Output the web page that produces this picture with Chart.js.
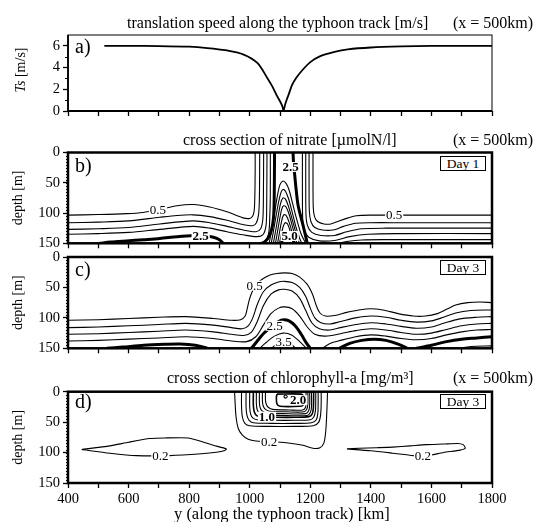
<!DOCTYPE html>
<html>
<head>
<meta charset="utf-8">
<script src="https://cdn.jsdelivr.net/npm/chart.js@4.4.0/dist/chart.umd.min.js"></script>
<style>
body{margin:0;background:#fff;width:547px;height:522px;position:relative;overflow:hidden;font-family:"Liberation Serif","DejaVu Serif",serif;color:#000}
canvas{position:absolute;left:0}
.t{position:absolute;font-size:16px;line-height:16px;white-space:nowrap}
.p{position:absolute;font-size:20px;line-height:20px}
.day{position:absolute;box-sizing:border-box;border:1px solid #000;font-size:13.5px;line-height:13px;width:46px;height:15px;text-align:center;background:#fff}
</style>
</head>
<body>
<canvas id="ca" width="547" height="125" style="top:0"></canvas>
<canvas id="cb" width="547" height="115" style="top:140px"></canvas>
<canvas id="cc" width="547" height="115" style="top:245px"></canvas>
<canvas id="cd" width="547" height="142" style="top:380px"></canvas>

<div class="t" style="left:127px;top:15px">translation speed along the typhoon track [m/s]</div>
<div class="t" style="left:453px;top:15px">(x = 500km)</div>
<div class="t" style="left:183px;top:132px">cross section of nitrate [µmolN/l]</div>
<div class="t" style="left:453px;top:132px">(x = 500km)</div>
<div class="t" style="left:167px;top:370px">cross section of chlorophyll-a [mg/m³]</div>
<div class="t" style="left:453px;top:370px">(x = 500km)</div>
<div class="t" style="left:174px;top:505px;font-size:16.5px;line-height:17px">y (along the typhoon track) [km]</div>

<div class="p" style="left:75px;top:36px">a)</div>
<div class="p" style="left:75px;top:155px">b)</div>
<div class="p" style="left:75px;top:259px">c)</div>
<div class="p" style="left:75px;top:391px">d)</div>
<div class="day" style="left:440px;top:156px">Day 1</div>
<div class="day" style="left:440px;top:260px">Day 3</div>
<div class="day" style="left:440px;top:394px">Day 3</div>

<script>
// a) translation speed
var a_km = [520,600,700,800,860,920,980,1026,1059,1075,1090,1100,1107,1112,1117,1123,1129,1140,1155,1175,1200,1233,1280,1324,1400,1500,1600,1700,1800];
var a_ts = [6.0,6.0,5.98,5.92,5.8,5.6,5.2,4.4,3.0,2.25,1.4,0.9,0.5,0.05,0.6,1.1,1.55,2.4,3.1,3.8,4.5,5.05,5.45,5.68,5.85,5.95,6.0,6.0,6.0];

// b) nitrate day 1  [km, depth]
var b_l05 = [[400,103.5],[500,102.5],[593,101],[648,99],[703,94],[760,88],[813,86],[868,90],[925,98],[978,108],[1000,109],[1010,105],[1015,95],[1017,70],[1018,30],[1018,0]];
var b_l10 = [[400,116],[500,115],[600,113],[703,107],[760,104],[813,103],[868,106],[925,112],[978,119],[1010,121],[1022,116],[1029,103],[1032,75],[1033,0]];
var b_l15 = [[400,127],[500,126],[600,124],[703,118],[813,113],[868,116],[925,122],[978,128],[1020,131],[1036,126],[1043,112],[1045,85],[1046,0]];
var b_l20 = [[400,135],[500,134],[600,132],[703,127],[813,122],[868,125],[925,131],[978,136],[1025,139],[1045,135],[1054,120],[1056,90],[1057,0]];
var b_l20b = [[1030,150],[1050,146],[1062,135],[1066,110],[1068,70],[1068,0]];
var b_t25a = [[505,150],[540,148],[593,146],[650,144],[703,142],[760,139],[813,137],[850,137],[880,140],[900,144],[912,150]];
var b_t25b = [[1044,150],[1060,142],[1072,128],[1079,105],[1081,70],[1082,0]];
var b_t25c = [[1143,0],[1145,20],[1148,34],[1152,55],[1160,88],[1176,120],[1190,150]];
var b_d1 = [[1064,150],[1072,130],[1082,100],[1092,70],[1100,53],[1110,47],[1120,51],[1130,62],[1142,85],[1155,110],[1170,135],[1185,150]];
var b_d2 = [[1071,150],[1079,128],[1088,102],[1097,78],[1104,65],[1110,61],[1118,64],[1128,76],[1140,98],[1152,122],[1165,142],[1172,150]];
var b_d3 = [[1078,150],[1086,128],[1094,105],[1102,84],[1110,75],[1118,77],[1128,89],[1140,110],[1152,132],[1164,150]];
var b_d4 = [[1085,150],[1092,130],[1100,107],[1106,93],[1112,88],[1120,90],[1130,102],[1142,124],[1156,150]];
var b_d5 = [[1092,150],[1098,133],[1105,114],[1112,103],[1120,104],[1130,115],[1140,132],[1150,150]];
var b_d6 = [[1098,150],[1104,136],[1110,123],[1117,116],[1125,118],[1134,131],[1144,150]];
var b_t50 = [[1104,150],[1112,140],[1122,135],[1134,135],[1142,141],[1147,150]];
var b_r05 = [[1209,0],[1209,60],[1210,92],[1214,106],[1224,114],[1245,118],[1268,118],[1295,113],[1325,108],[1352,104.5],[1400,103.5],[1500,103.5],[1800,103.5]];
var b_r10 = [[1196,0],[1196,60],[1197,98],[1202,114],[1215,124],[1240,128],[1275,128],[1310,122],[1350,117],[1400,116],[1500,116],[1800,116]];
var b_r15 = [[1185,0],[1185,60],[1186,104],[1191,121],[1205,132],[1235,137],[1280,137],[1320,131],[1370,126],[1450,125],[1800,125]];
var b_r20 = [[1174,0],[1174,60],[1175,110],[1180,128],[1195,140],[1230,146],[1285,145],[1330,139],[1390,135],[1500,134],[1800,134]];
var b_r25 = [[1290,150],[1320,147],[1370,144.5],[1450,144],[1800,144]];
var b_labels = [[697,95,'0.5',0],[1477,103.5,'0.5',0],[838,138,'2.5',1],[1135,24,'2.5',1],[1132,138,'5.0',1]];

// c) nitrate day 3
var c_05 = [[400,104],[500,103],[600,101],[700,99],[790,98],[880,101],[940,104],[970,103],[985,97],[992,84],[1000,68],[1010,55],[1022,45],[1040,37],[1065,30],[1090,27],[1115,26],[1140,27],[1165,33],[1190,45],[1208,62],[1220,80],[1232,92],[1250,97],[1280,96],[1320,91],[1360,87],[1400,85],[1440,87],[1490,93],[1540,97],[1580,97],[1620,93],[1650,86],[1680,79],[1720,75],[1760,74],[1800,75]];
var c_10 = [[400,116],[500,115],[600,113],[700,111],[790,109],[880,112],[940,116],[975,118],[995,113],[1010,100],[1025,78],[1045,57],[1070,46],[1095,41],[1115,40],[1140,42],[1165,50],[1185,65],[1200,84],[1215,100],[1235,108],[1265,110],[1300,106],[1350,100],[1400,97],[1450,99],[1500,104],[1550,107],[1600,105],[1640,99],[1680,92],[1730,88],[1800,87]];
var c_15 = [[400,127],[500,126],[600,124],[700,122],[790,120],[880,123],[940,127],[980,129],[1005,124],[1025,106],[1045,80],[1070,61],[1095,54],[1115,53],[1140,56],[1165,68],[1185,88],[1205,108],[1230,118],[1265,120],[1300,116],[1350,111],[1400,108],[1450,110],[1500,114],[1550,117],[1600,115],[1640,109],[1690,102],[1750,99],[1800,98]];
var c_20 = [[400,138],[500,137],[600,135],[700,133],[790,131],[880,134],[940,138],[990,139],[1020,131],[1045,112],[1070,93],[1095,84],[1115,82],[1140,85],[1165,97],[1190,115],[1215,127],[1250,130],[1300,126],[1350,121],[1400,118],[1450,120],[1500,124],[1550,127],[1600,125],[1650,119],[1700,113],[1750,110],[1800,109]];
var c_20b = [[1240,150],[1265,142],[1300,137],[1350,131],[1400,128],[1450,130],[1500,134],[1550,136],[1600,134],[1650,128],[1700,123],[1750,120],[1800,119]];
var c_t25a = [[528,150],[580,148],[650,145],[720,143.5],[770,143],[820,145],[860,150]];
var c_t25b = [[1006,150],[1025,138],[1045,126],[1070,115],[1095,106],[1112,103],[1130,105],[1150,113],[1170,127],[1188,142],[1200,150]];
var c_t25c = [[1296,150],[1330,142],[1370,137],[1410,135],[1450,137],[1490,143],[1520,150]];
var c_t25d = [[1550,150],[1600,145],[1650,139],[1700,135],[1750,133],[1800,131]];
var c_30 = [[1033,150],[1055,140],[1082,130],[1110,125],[1138,128],[1165,139],[1187,150]];
var c_35 = [[1072,150],[1090,143],[1112,139],[1135,143],[1152,150]];
var c_30b = [[1690,150],[1730,147],[1800,146]];
var c_labels = [[1016,47,'0.5',0],[1082,113,'2.5',0],[1112,139,'3.5',0]];

// d) chlorophyll-a day 3
var d_lensL = [[445,95],[538,89],[600,83],[670,77],[720,76],[797,76],[835,81],[880,88],[923,94],[918,96.5],[890,99.5],[840,102],[736,105],[626,105],[538,101],[445,95]];
var d_lensR = [[1321,94],[1360,93],[1420,92],[1472,91],[1530,89],[1583,87],[1640,86],[1687,85],[1705,87],[1712,93],[1695,96],[1640,100],[1600,104],[1572,106],[1540,105],[1472,101],[1400,97],[1321,94]];
var d_02 = [[950,0],[952,20],[955,42],[962,60],[975,71],[995,78],[1020,81],[1062,82],[1121,84],[1176,88],[1209,93],[1232,92],[1245,84],[1251,65],[1254,40],[1256,15],[1257,0]];
var d_04 = [[973,0],[973,25],[976,42],[984,52],[1000,56],[1060,57],[1150,57],[1210,56],[1228,50],[1234,38],[1236,20],[1236,0]];
var d_06 = [[988,0],[988,25],[991,39],[998,47],[1012,51],[1070,52],[1150,52],[1204,51],[1220,46],[1225,35],[1226,18],[1226,0]];
var d_08 = [[1000,0],[1000,25],[1003,37],[1010,43],[1024,46],[1080,47],[1150,47],[1200,46],[1212,41],[1217,31],[1218,15],[1218,0]];
var d_10 = [[1012,0],[1012,22],[1015,33],[1022,39],[1036,41],[1090,42],[1150,42],[1195,41],[1206,37],[1210,28],[1211,12],[1211,0]];
var d_12 = [[1022,0],[1022,20],[1025,30],[1032,35],[1046,38],[1100,39],[1190,39],[1200,34],[1204,25],[1204,0]];
var d_14 = [[1032,0],[1032,18],[1035,27],[1042,32],[1056,35],[1110,36],[1185,36],[1195,31],[1198,22],[1198,0]];
var d_16 = [[1042,0],[1042,16],[1045,24],[1052,29],[1066,32],[1120,33],[1180,33],[1189,28],[1192,20],[1192,0]];
var d_18 = [[1052,0],[1052,14],[1055,21],[1062,26],[1076,29],[1130,30],[1175,30],[1184,26],[1186,18],[1186,0]];
var d_20 = [[1090,4],[1170,4],[1178,8],[1180,16],[1176,22],[1165,24],[1100,24],[1090,20],[1088,10],[1090,4]];
var d_circ = [[1112,8],[1118,5.5],[1124,8],[1118,10.5],[1112,8]];
var d_labels = [[705,105,'0.2',0],[1064,82,'0.2',0],[1572,106,'0.2',0],[1057,41,'1.0',1],[1160,14,'2.0',1]];

var depthTicks = [0, 50, 100, 150];
var speedTicks = [0, 2, 4, 6];

Chart.defaults.font.family = '"Liberation Serif", serif';
Chart.defaults.color = '#000';

function line(arr, w, t) {
  return {data: arr.map(function(p){ return {x: p[0], y: p[1]}; }), showLine: true,
    borderColor: '#000', borderWidth: w, pointRadius: 0, tension: t == null ? 0.3 : t, fill: false};
}

var panelPlugin = {
  id: 'panel',
  afterDatasetsDraw: function(chart, args, o) {
    var ctx = chart.ctx, ca = chart.chartArea, xs = chart.scales.x, ys = chart.scales.y;
    ctx.save();
    (o.labels || []).forEach(function(l) {
      var px = xs.getPixelForValue(l[0]), py = ys.getPixelForValue(l[1]);
      ctx.font = (l[3] ? 'bold ' : '') + '13px "Liberation Serif"';
      var w = ctx.measureText(l[2]).width;
      ctx.fillStyle = '#fff';
      ctx.fillRect(px - w / 2 - 1, py - 5, w + 2, 10);
      ctx.fillStyle = '#000';
      ctx.textAlign = 'center';
      ctx.textBaseline = 'middle';
      ctx.fillText(l[2], px, py + 0.5);
    });
    // minor ticks on left axis
    ctx.strokeStyle = '#000';
    ctx.lineWidth = 1;
    if (o.minor) {
      for (var v = o.minor[0]; v <= o.minor[1]; v += o.minor[2]) {
        var py = Math.round(ys.getPixelForValue(v)) + 0.5;
        ctx.beginPath();
        ctx.moveTo(ca.left - o.minor[3], py);
        ctx.lineTo(ca.left, py);
        ctx.stroke();
      }
    }
    ctx.lineWidth = o.lw;
    ctx.strokeRect(ca.left, ca.top, ca.right - ca.left, ca.bottom - ca.top);
    if (o.axisW) {
      ctx.lineWidth = o.axisW;
      ctx.beginPath();
      ctx.moveTo(ca.left, ca.bottom); ctx.lineTo(ca.right, ca.bottom);
      ctx.moveTo(ca.left, ca.top); ctx.lineTo(ca.left, ca.bottom);
      ctx.stroke();
    }
    if (o.tsTitle) {
      ctx.translate(21, 70);
      ctx.rotate(-Math.PI / 2);
      ctx.textBaseline = 'middle';
      ctx.textAlign = 'left';
      ctx.font = 'italic 14px "Liberation Serif"';
      var w1 = ctx.measureText('Ts').width;
      ctx.font = '14px "Liberation Serif"';
      var w2 = ctx.measureText(' [m/s]').width;
      var x0 = -(w1 + w2) / 2;
      ctx.font = 'italic 14px "Liberation Serif"';
      ctx.fillText('Ts', x0, 0);
      ctx.font = '14px "Liberation Serif"';
      ctx.fillText(' [m/s]', x0 + w1, 0);
    }
    ctx.restore();
  }
};

function mk(id, datasets, o) {
  return new Chart(document.getElementById(id), {
    type: 'scatter',
    data: {datasets: datasets},
    options: {
      responsive: false,
      animation: false,
      layout: {padding: {top: o.top, right: 55, left: 0, bottom: 0}},
      plugins: {legend: {display: false}, tooltip: {enabled: false},
        panel: {labels: o.labels, minor: o.minor, lw: o.lw, axisW: o.axisW, tsTitle: o.tsTitle}},
      scales: {
        x: {
          type: 'linear', min: 400, max: 1800,
          afterFit: function(s) { s.height = o.xh; },
          border: {display: false},
          grid: {drawOnChartArea: false, drawTicks: true, tickLength: 5, tickWidth: 1.3, tickColor: '#000'},
          ticks: {stepSize: 100, autoSkip: false, maxRotation: 0, padding: 2, font: {size: 14.5},
            callback: function(v) { return o.xlab && v % 200 === 0 ? String(v) : ''; }}
        },
        y: {
          type: 'linear', min: o.ymin, max: o.ymax, reverse: o.rev,
          afterFit: function(s) { s.width = 68; },
          border: {display: false},
          grid: {drawOnChartArea: false, drawTicks: true, tickLength: 5, tickWidth: 1.3, tickColor: '#000'},
          afterBuildTicks: function(s) { s.ticks = o.yt.map(function(v){ return {value: v}; }); },
          ticks: {padding: 3, font: {size: 14.5}},
          title: {display: !o.tsTitle, text: 'depth [m]', font: {size: 14}, padding: {top: 10, bottom: 0}}
        }
      }
    },
    plugins: [panelPlugin]
  });
}

var a_pts = a_km.map(function(k, i){ return [k, a_ts[i]]; });
mk('ca', [line(a_pts, 1.8, 0.25)],
  {top: 35, xh: 14, ymin: 0, ymax: 7, rev: false, yt: speedTicks, lw: 1, axisW: 1.8, tsTitle: true, minor: [1, 5, 2, 3]});

var T = 3, N = 1.1;
mk('cb', [
  line(b_l05, N), line(b_l10, N), line(b_l15, N), line(b_l20, N), line(b_l20b, N),
  line(b_t25a, T), line(b_t25b, T), line(b_t25c, T),
  line(b_d1, N), line(b_d2, N), line(b_d3, N), line(b_d4, N), line(b_d5, N), line(b_d6, N), line(b_t50, T),
  line(b_r05, N), line(b_r10, N), line(b_r15, N), line(b_r20, N), line(b_r25, N)
], {top: 12.5, xh: 10, ymin: 0, ymax: 150, rev: true, yt: depthTicks, lw: 2.5, labels: b_labels, minor: [5, 145, 5, 2]});

mk('cc', [
  line(c_05, N), line(c_10, N), line(c_15, N), line(c_20, N), line(c_20b, N),
  line(c_t25a, T), line(c_t25b, T), line(c_t25c, T), line(c_t25d, T),
  line(c_30, N), line(c_35, N), line(c_30b, N)
], {top: 12, xh: 11, ymin: 0, ymax: 150, rev: true, yt: depthTicks, lw: 2.5, labels: c_labels, minor: [5, 145, 5, 2]});

mk('cd', [
  line(d_lensL, N, 0.2), line(d_lensR, N, 0.2), line(d_02, N), line(d_04, N), line(d_06, N), line(d_08, N),
  line(d_10, 1.6), line(d_12, N), line(d_14, N), line(d_16, N), line(d_18, N), line(d_20, 1.6), line(d_circ, N, 0.4)
], {top: 11, xh: 39, ymin: 0, ymax: 150, rev: true, yt: depthTicks, lw: 2.5, labels: d_labels, xlab: true, minor: [5, 145, 5, 2]});
</script>
</body>
</html>
